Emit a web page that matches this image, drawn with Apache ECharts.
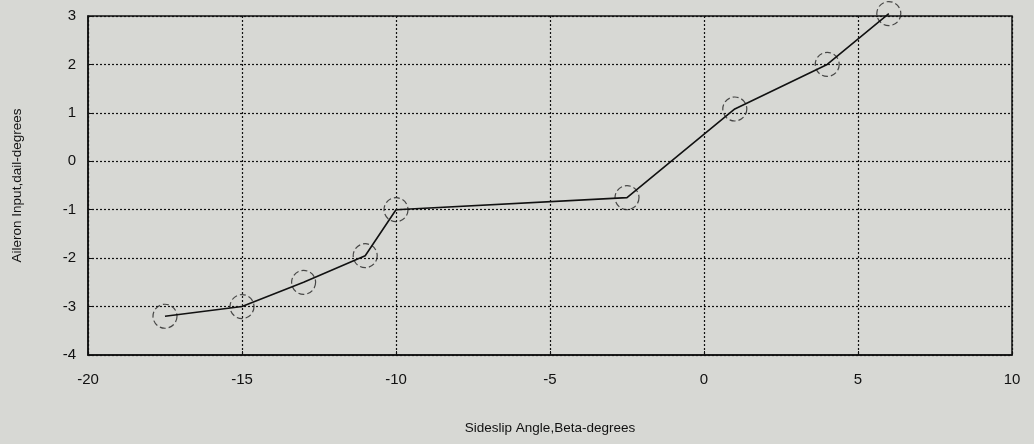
<!DOCTYPE html>
<html>
<head>
<meta charset="utf-8">
<script src="https://cdn.jsdelivr.net/npm/echarts@6/dist/echarts.min.js"></script>
<style>
  html, body { margin: 0; padding: 0; background: #d7d8d4; }
  #chart { width: 1034px; height: 444px; }
</style>
</head>
<body>
<div id="chart"></div>
<script>
// Sideslip angle (deg) vs aileron input (deg)
const beta = [-17.5, -15, -13, -11, -10, -2.5, 1, 4, 6];
const aileron = [-3.2, -3.0, -2.5, -1.95, -1.0, -0.75, 1.08, 2.0, 3.05];

const xTicks = [-20, -15, -10, -5, 0, 5, 10];
const yTicks = [-4, -3, -2, -1, 0, 1, 2, 3];

const points = beta.map((b, i) => [b, aileron[i]]);

const chart = echarts.init(document.getElementById('chart'));
const font = 'Liberation Sans, Arial, sans-serif';

chart.setOption({
  backgroundColor: '#d7d8d4',
  animation: false,
  grid: {
    left: 88, right: 22, top: 16, bottom: 89,
    show: true, borderColor: '#111', borderWidth: 1.5,
    backgroundColor: 'transparent'
  },
  xAxis: {
    type: 'value',
    min: xTicks[0], max: xTicks[xTicks.length - 1], interval: 5,
    name: 'Sideslip Angle,Beta-degrees',
    nameLocation: 'middle', nameGap: 66,
    nameTextStyle: { color: '#111', fontSize: 13.5, fontFamily: font },
    axisLine: { show: true, onZero: false, lineStyle: { color: '#111', width: 1.5 } },
    axisTick: { show: true, inside: true, length: 4, lineStyle: { color: '#111' } },
    axisLabel: { color: '#111', fontSize: 15, fontFamily: font, margin: 17 },
    splitLine: { show: true, lineStyle: { color: '#111', type: [2, 2], width: 1.2 } }
  },
  yAxis: {
    type: 'value',
    min: yTicks[0], max: yTicks[yTicks.length - 1], interval: 1,
    name: 'Aileron Input,dail-degrees',
    nameLocation: 'middle', nameGap: 64,
    nameTextStyle: { color: '#111', fontSize: 13.5, fontFamily: font },
    axisLine: { show: true, onZero: false, lineStyle: { color: '#111', width: 1.5 } },
    axisTick: { show: true, inside: true, length: 4, lineStyle: { color: '#111' } },
    axisLabel: { color: '#111', fontSize: 15, fontFamily: font, margin: 12 },
    splitLine: { show: true, lineStyle: { color: '#111', type: [2, 2], width: 1.2 } }
  },
  series: [
    {
      type: 'line',
      data: points,
      clip: false,
      symbol: 'none',
      lineStyle: { color: '#111', width: 1.6 },
      z: 3
    },
    {
      type: 'scatter',
      data: points,
      clip: false,
      symbol: 'circle',
      symbolSize: 24,
      itemStyle: {
        color: 'rgba(0,0,0,0)',
        borderColor: '#222',
        borderWidth: 1.2,
        borderType: [6, 3]
      },
      z: 2
    }
  ]
});
</script>
</body>
</html>
